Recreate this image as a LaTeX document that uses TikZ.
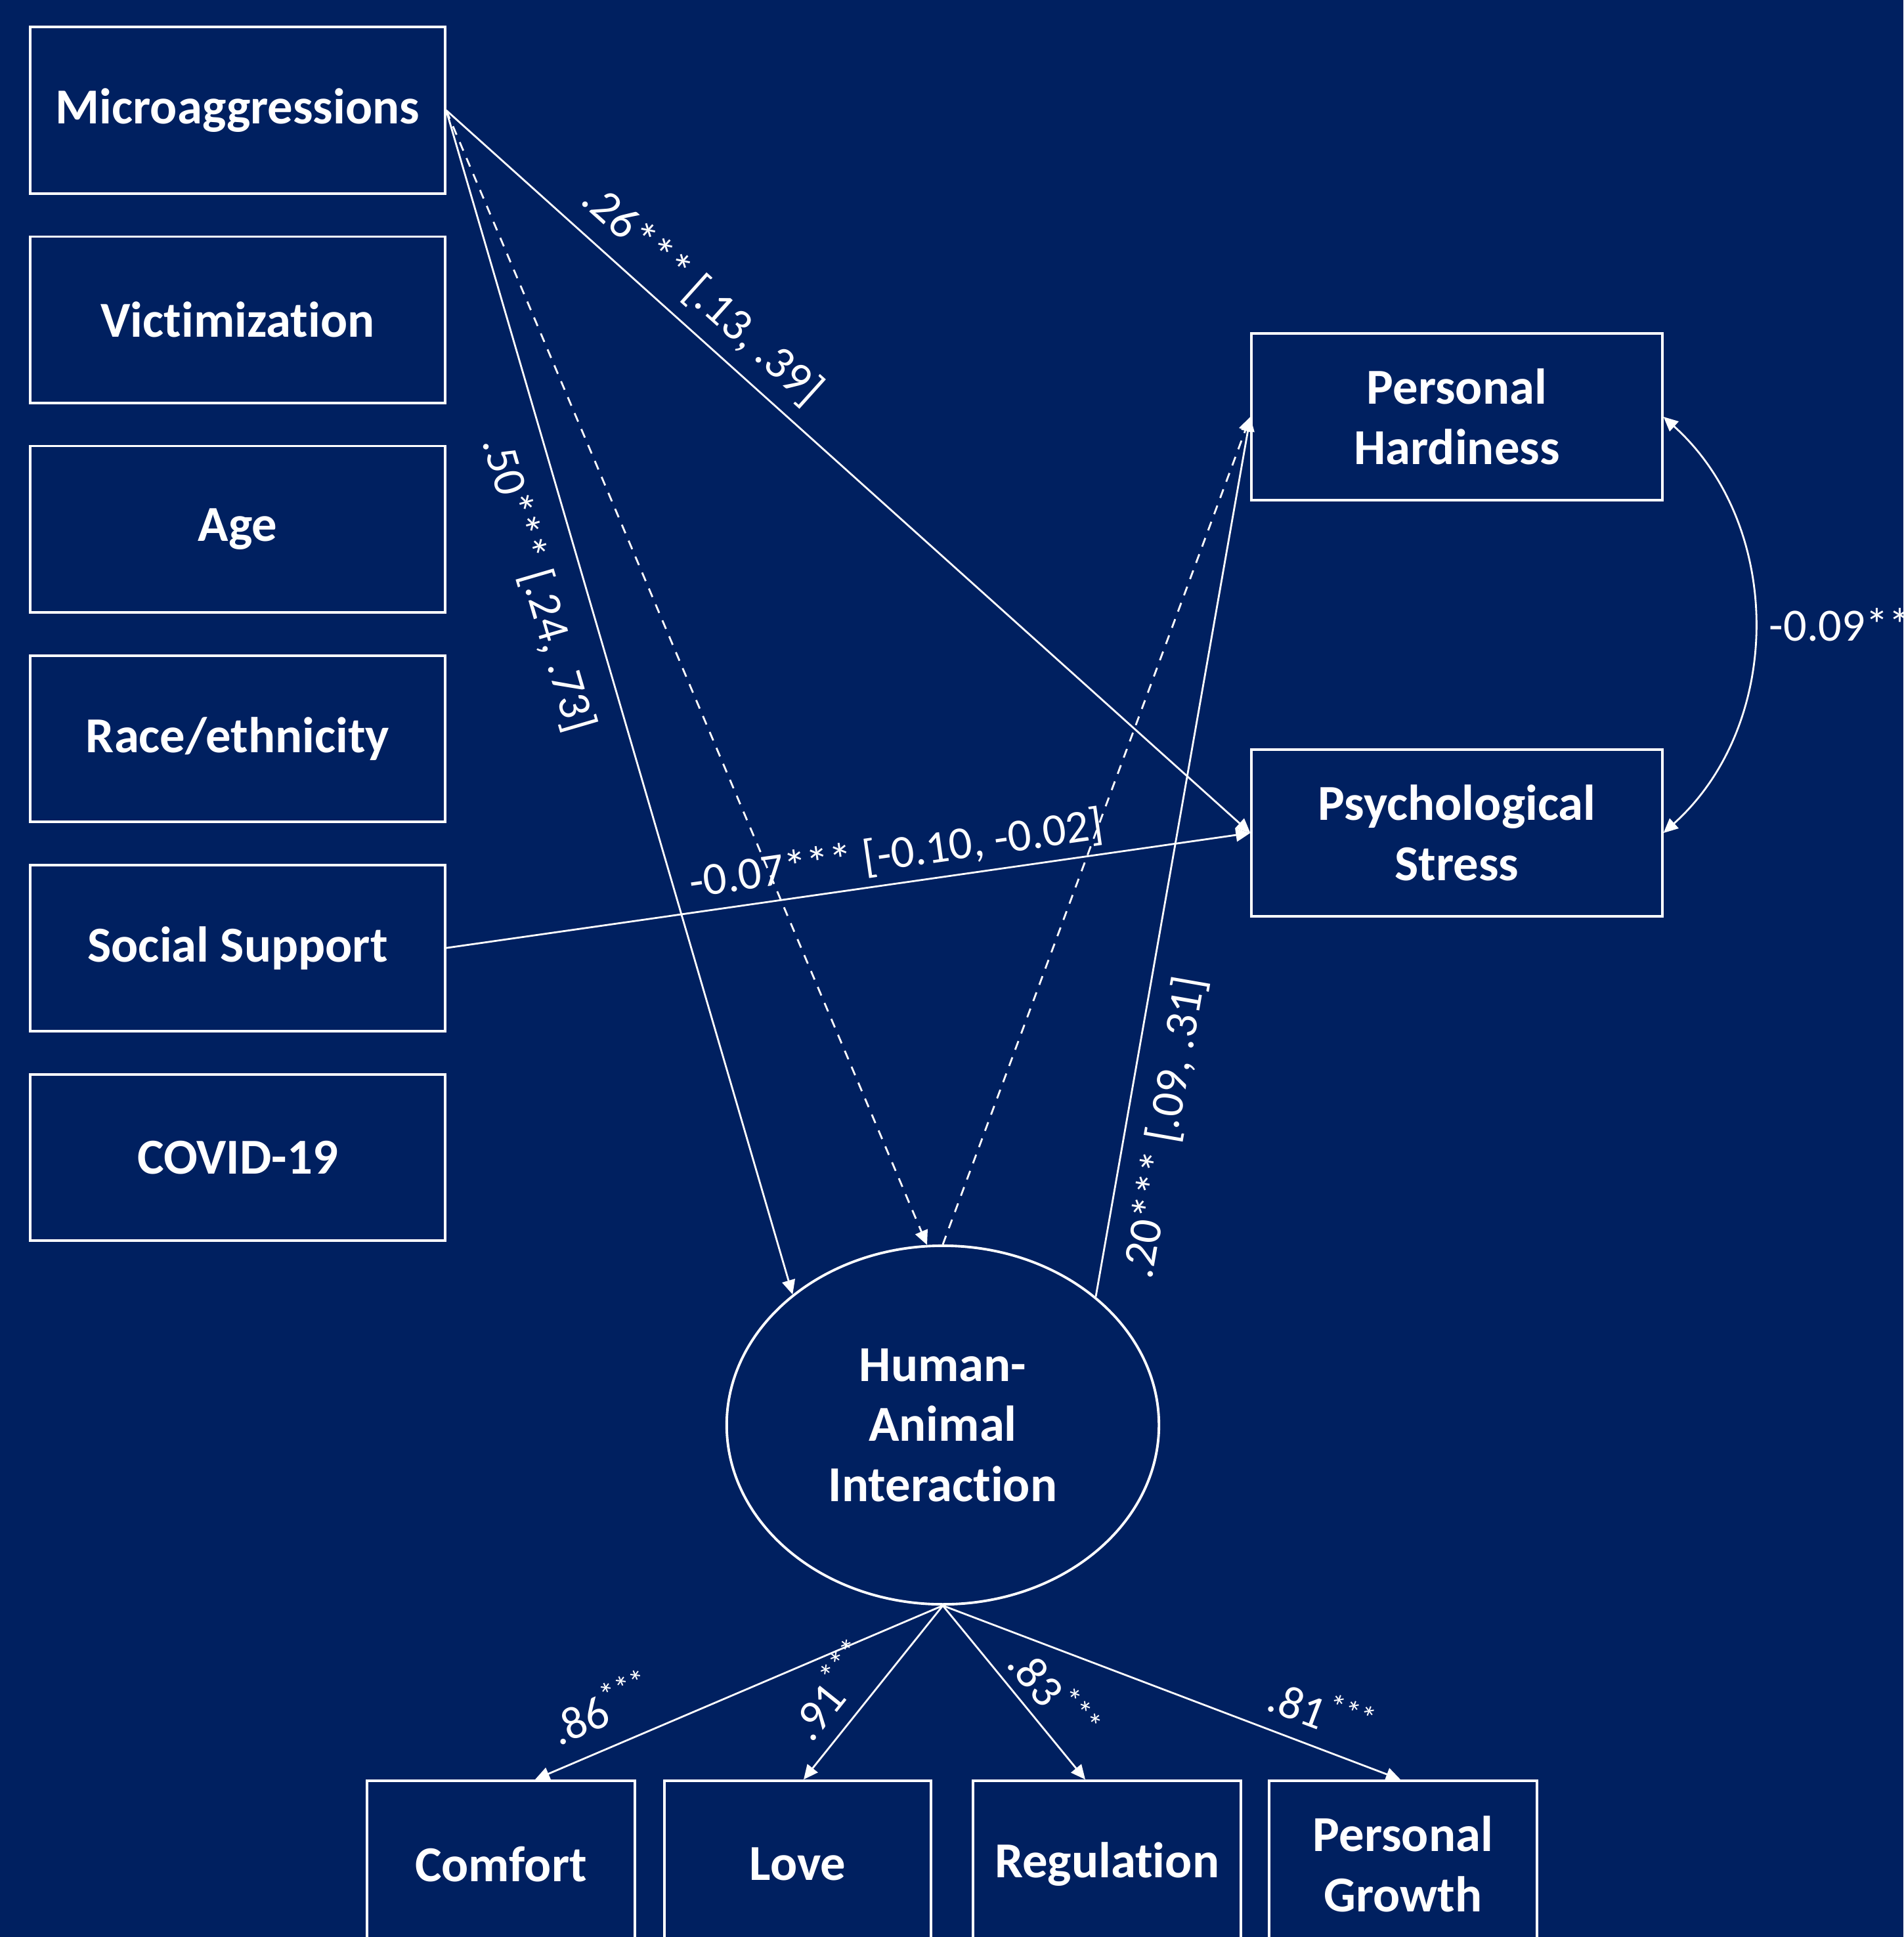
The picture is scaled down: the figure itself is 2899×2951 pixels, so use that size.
\documentclass[tikz,border=0pt]{standalone}
\usepackage{fontspec}
\setmainfont[Ligatures=NoCommon]{Carlito}
\usetikzlibrary{shapes.geometric, arrows.meta, positioning}
\definecolor{slidenavy}{RGB}{0, 32, 96}
\tikzset{
  >=Stealth,
  patharrow/.style={-{Triangle[length=2.2mm, width=2mm]}, line width=0.8pt, white},
  patharrow_dashed/.style={patharrow, dash pattern=on 4pt off 3.5pt},
  covarrow/.style={{Triangle[length=2.2mm, width=2mm]}-{Triangle[length=2.2mm, width=2mm]}, line width=0.8pt, white},
  coeflabel/.style={sloped, inner sep=0pt, text=white, font=\fontsize{20}{24}\selectfont}
}
\tikzset{
  varbox/.style={rectangle, draw=white, line width=1.1pt, minimum width=6.31cm, minimum height=2.53cm, align=center, text=white, font=\fontsize{21.8}{26}\selectfont\bfseries},
  outbox/.style={varbox, minimum width=6.25cm, minimum height=2.54cm},
  itembox/.style={varbox, minimum width=4.08cm, minimum height=2.54cm},
  latentvar/.style={ellipse, draw=white, line width=1.1pt, minimum width=6.58cm, minimum height=5.46cm, inner sep=0pt, align=center, text=white, font=\fontsize{21.8}{26}\selectfont\bfseries}
}

\begin{document}
\begin{tikzpicture}[x=0.01cm, y=-0.01cm]
    % slide background
    \useasboundingbox (0, 0) rectangle (2899, 2951);
    \fill[slidenavy] (0, 0) rectangle (2899, 2951);

    % Predictors and covariates (left column)
    \node[varbox] (micro) at (362, 168) {Microaggressions};
    \node[varbox, below=0.62cm of micro] (victim) {Victimization};
    \node[varbox, below=0.62cm of victim] (age) {Age};
    \node[varbox, below=0.62cm of age] (race) {Race/ethnicity};
    \node[varbox, below=0.62cm of race] (social) {Social Support};
    \node[varbox, below=0.62cm of social] (covid) {COVID-19};

    % Outcomes
    \node[outbox] (hardy) at (2219, 635) {Personal\\Hardiness};
    \node[outbox] (stress) at (2219, 1269) {Psychological\\Stress};

    % Mediator and its indicators
    \node[latentvar] (hai) at (1436, 2171) {Human-\\Animal\\Interaction};
    \node[itembox] (comfort) at (763, 2840) {Comfort};
    \node[itembox, minimum width=4.05cm] (love) at (1215, 2840) {Love};
    \node[itembox] (regul) at (1686, 2840) {Regulation};
    \node[itembox] (growth) at (2137, 2840) {Personal\\Growth};

    % Structural paths
    \draw[patharrow] (micro.east) -- node[coeflabel, pos=0.29, above=0.2cm] {.26*** [.13, .39]} (stress.west);
    \draw[patharrow] (micro.east) -- node[coeflabel, pos=0.39, below=0.37cm] {.50*** [.24, .73]} (hai.139);
    \draw[patharrow_dashed] (micro.east) -- (hai.95);
    \draw[patharrow_dashed] (hai.north) -- (hardy.west);
    \draw[patharrow] (hai.40) -- node[coeflabel, pos=0.20, below=0.28cm] {.20*** [.09, .31]} (hardy.west);
    \draw[patharrow] (social.east) -- node[coeflabel, pos=0.565, above=0.12cm] {-0.07*** [-0.10, -0.02]} (stress.west);

    % Covariance between outcomes
    \draw[covarrow] (hardy.east) to[bend left=48] node[pos=0.5, right=0.22cm, inner sep=0pt, text=white, font=\fontsize{20}{24}\selectfont] {-0.09**} (stress.east);

    % Measurement paths
    \draw[patharrow] (hai.south) -- node[coeflabel, pos=0.80, above=0.3cm] {.86\textsuperscript{***}} ([xshift=0.52cm]comfort.north);
    \draw[patharrow] (hai.south) -- node[coeflabel, pos=0.61, above=0.22cm] {.91\textsuperscript{***}} ([xshift=0.09cm]love.north);
    \draw[patharrow] (hai.south) -- node[coeflabel, pos=0.62, above=0.15cm] {.83\textsuperscript{***}} ([xshift=-0.33cm]regul.north);
    \draw[patharrow] (hai.south) -- node[coeflabel, pos=0.80, above=0.24cm] {.81\textsuperscript{***}} ([xshift=-0.04cm]growth.north);
\end{tikzpicture}
\end{document}
